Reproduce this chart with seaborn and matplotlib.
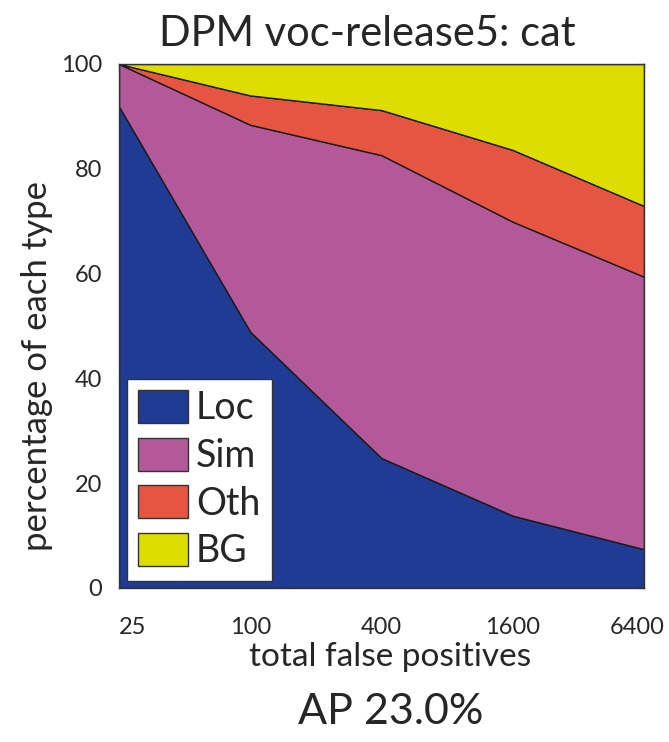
import numpy as np
import pandas as pd
import matplotlib
matplotlib.use("Agg")
import matplotlib.pyplot as plt
import matplotlib.transforms as mtransforms
import seaborn as sns

# valeurs (pourcentage de chaque type)
total_fp = [25, 100, 400, 1600, 6400]
loc_pct = [91.9, 48.9, 24.8, 13.8, 7.4]
sim_pct = [8.1, 39.5, 57.8, 56.1, 52.0]
oth_pct = [0.0, 5.6, 8.6, 13.7, 13.5]
bg_pct = [0.0, 6.0, 8.8, 16.4, 27.1]
types = ["Loc", "Sim", "Oth", "BG"]
type_colors = ["#1F3B94", "#B3599A", "#E55541", "#DDDD00"]
tick_labels = ["25", "100", "400", "1600", "6400"]

sns.set_theme(style="white")
plt.rcParams["font.family"] = ["Lato", "DejaVu Sans"]

df = pd.DataFrame({"fp": total_fp, "Loc": loc_pct, "Sim": sim_pct,
                   "Oth": oth_pct, "BG": bg_pct})

fig = plt.figure(figsize=(6.69, 7.42), dpi=100)
ax = fig.add_axes([119 / 669, 154 / 742, 525 / 669, 524 / 742])

ax.stackplot(df["fp"], *[df[t] for t in types], labels=types,
             colors=type_colors, edgecolor="#1a1a1a", linewidth=1.0)

ax.set_xscale("log")
ax.set_xlim(25, 6400)
ax.set_ylim(0, 100)
ax.set_xticks(total_fp)
ax.set_xticklabels(tick_labels)
ax.minorticks_off()
ax.set_yticks([0, 20, 40, 60, 80, 100])
ax.tick_params(direction="in", top=True, right=True, length=5, width=0.8,
               color="#333333", labelsize=17)
ax.tick_params(axis="x", pad=21)
ax.tick_params(axis="y", pad=12)
for sp in ax.spines.values():
    sp.set_color("#333333")
    sp.set_linewidth(1.0)

# décalage des étiquettes extrêmes comme sur l'original
xlabs = ax.get_xticklabels()
xlabs[0].set_horizontalalignment("left")
xlabs[-1].set_transform(xlabs[-1].get_transform() +
                        mtransforms.ScaledTranslation(-7 / 100, 0, fig.dpi_scale_trans))

ax.set_xlabel("total false positives", fontsize=24)
ax.xaxis.set_label_coords(0.516, -0.104)
ax.set_ylabel("percentage of each type", fontsize=25)
ax.yaxis.set_label_coords(-0.125, 0.424)

leg = ax.legend(loc="lower left", bbox_to_anchor=(0, 0), fontsize=27,
                frameon=True, fancybox=False, framealpha=1,
                facecolor="white", edgecolor="#333333",
                handlelength=1.35, handleheight=0.98, handletextpad=0.2,
                labelspacing=0.3, borderpad=0.3, borderaxespad=0.2)
leg.get_frame().set_linewidth(1.0)
for h in leg.legend_handles:
    h.set_edgecolor("#333333")

fig.text(367 / 669, 1 - 34 / 742, "DPM voc-release5: cat", ha="center",
         va="center", fontsize=30)
fig.text(391 / 669, 30 / 742, "AP 23.0%", ha="center", va="center",
         fontsize=31)

fig.savefig("out.png", dpi=100)
